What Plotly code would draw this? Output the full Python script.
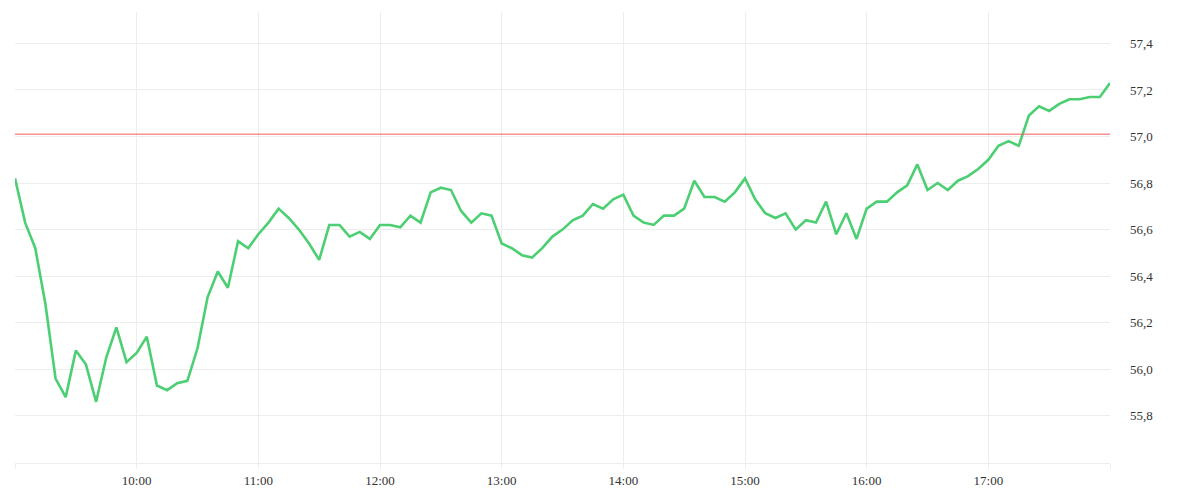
import plotly.graph_objects as go
import pandas as pd

# 5-minute prices, 09:00 -> 18:00
start_time = "2024-01-01 09:00"
prices = [
    56.82, 56.63, 56.52, 56.28, 55.96, 55.88, 56.08, 56.02, 55.86, 56.05,
    56.18, 56.03, 56.07, 56.14, 55.93, 55.91, 55.94, 55.95, 56.09, 56.31,
    56.42, 56.35, 56.55, 56.52, 56.58, 56.63, 56.69, 56.65, 56.60, 56.54,
    56.47, 56.62, 56.62, 56.57, 56.59, 56.56, 56.62, 56.62, 56.61, 56.66,
    56.63, 56.76, 56.78, 56.77, 56.68, 56.63, 56.67, 56.66, 56.54, 56.52,
    56.49, 56.48, 56.52, 56.57, 56.60, 56.64, 56.66, 56.71, 56.69, 56.73,
    56.75, 56.66, 56.63, 56.62, 56.66, 56.66, 56.69, 56.81, 56.74, 56.74,
    56.72, 56.76, 56.82, 56.73, 56.67, 56.65, 56.67, 56.60, 56.64, 56.63,
    56.72, 56.58, 56.67, 56.56, 56.69, 56.72, 56.72, 56.76, 56.79, 56.88,
    56.77, 56.80, 56.77, 56.81, 56.83, 56.86, 56.90, 56.96, 56.98, 56.96,
    57.09, 57.13, 57.11, 57.14, 57.16, 57.16, 57.17, 57.17, 57.23,
]
reference_level = 57.01
hour_ticks = ["09:00", "10:00", "11:00", "12:00", "13:00", "14:00", "15:00", "16:00", "17:00", "18:00"]
hour_labels = ["", "10:00", "11:00", "12:00", "13:00", "14:00", "15:00", "16:00", "17:00", ""]
y_ticks = [55.8, 56.0, 56.2, 56.4, 56.6, 56.8, 57.0, 57.2, 57.4]

times = pd.date_range(start_time, periods=len(prices), freq="5min")
tick_dates = ["2024-01-01 " + h + ":00" for h in hour_ticks]

GRID = "#ededed"
fig = go.Figure()
fig.add_trace(go.Scatter(
    x=times, y=prices, mode="lines",
    line=dict(color="#4ccf72", width=2.6),
    hoverinfo="skip", showlegend=False,
))
fig.add_hline(y=reference_level, line=dict(color="#f05a5a", width=1))

fig.update_layout(
    width=1200, height=500,
    margin=dict(l=7, r=98, t=4, b=45),
    paper_bgcolor="white", plot_bgcolor="white",
    separators=", ",
    font=dict(family="Liberation Serif", size=13, color="#333333"),
    xaxis=dict(
        range=[tick_dates[0], tick_dates[-1]],
        tickvals=tick_dates, ticktext=hour_labels,
        showgrid=True, gridcolor=GRID, gridwidth=1,
        ticks="outside", ticklen=5, tickcolor=GRID,
        showline=True, linecolor=GRID, linewidth=1,
        zeroline=False, fixedrange=True,
    ),
    yaxis=dict(
        side="right", range=[55.597, 57.535],
        tickvals=y_ticks, tickformat=".1f",
        showgrid=True, gridcolor=GRID, gridwidth=1,
        ticks="", ticklabelstandoff=19,
        zeroline=False, showline=False,
    ),
)

fig.write_html("out.html")
